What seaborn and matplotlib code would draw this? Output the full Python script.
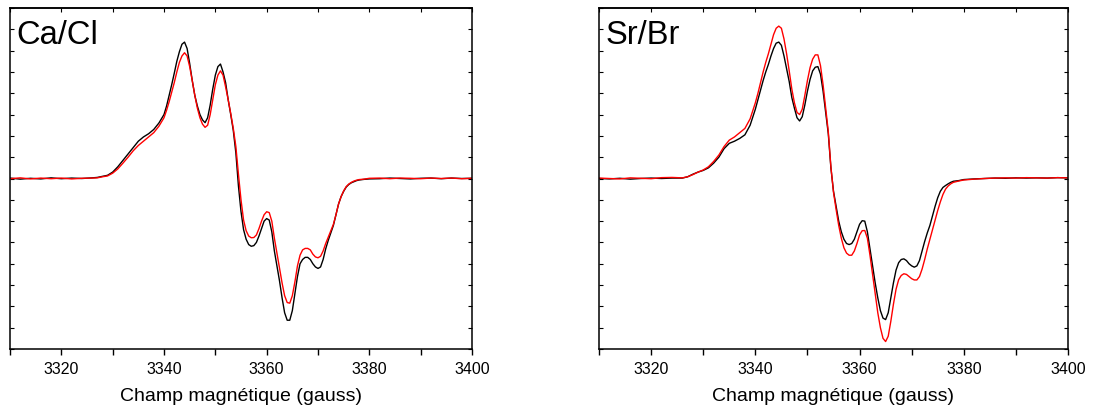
import numpy as np
import pandas as pd
import matplotlib
matplotlib.use("Agg")
import matplotlib.pyplot as plt
from matplotlib.ticker import MultipleLocator
import seaborn as sns

# ---------------- data ----------------
field = ([3310, 3312, 3314, 3316, 3318, 3320, 3322, 3324, 3326]
         + list(range(3327, 3340))
         + [3340 + 0.5 * i for i in range(77)]
         + [3379, 3380, 3382, 3384, 3386, 3388, 3390, 3392, 3394, 3396, 3398, 3400])

base_lo = [0.02, -0.03, 0.01, -0.02, 0.03, -0.01, 0.02, 0.0, 0.02]
base_hi = [0.0, 0.02, -0.01, 0.02, 0.0, -0.02, 0.01, 0.02, -0.01, 0.02, 0.0, 0.01]

ca_black = (base_lo[:-1] + [0.03]
            + [0.05, 0.1, 0.15, 0.3, 0.55, 0.85, 1.15, 1.45, 1.75, 1.95, 2.1, 2.3, 2.6]
            + [3.0, 3.4, 3.9, 4.4, 4.94, 5.5, 5.95, 6.3, 6.4, 6.1,
               5.4, 4.6, 3.9, 3.4, 3.0, 2.75, 2.62, 2.85, 3.45, 4.2,
               4.85, 5.25, 5.37, 5.0, 4.5, 3.7, 3.0, 2.25, 1.2, -0.35,
               -1.55, -2.4, -2.85, -3.1, -3.18, -3.15, -3.0, -2.7, -2.35, -2.0,
               -1.88, -1.95, -2.5, -3.4, -4.1, -4.8, -5.6, -6.3, -6.65, -6.65,
               -6.2, -5.4, -4.6, -4.0, -3.8, -3.7, -3.7, -3.8, -4.0, -4.15,
               -4.22, -4.15, -3.8, -3.3, -2.9, -2.55, -2.2, -1.7, -1.2, -0.85,
               -0.6, -0.4, -0.28, -0.2, -0.15, -0.1, -0.07]
            + [-0.04, -0.02] + base_hi[2:])

ca_red = ([-0.01, 0.03, -0.02, 0.02, -0.01, 0.02, -0.02, 0.01, 0.02]
          + [0.03, 0.08, 0.12, 0.25, 0.45, 0.72, 1.0, 1.3, 1.55, 1.75, 1.95, 2.15, 2.45]
          + [2.85, 3.2, 3.6, 4.05, 4.5, 5.0, 5.45, 5.75, 5.9, 5.75,
             5.25, 4.6, 3.9, 3.3, 2.85, 2.55, 2.4, 2.5, 3.0, 3.7,
             4.4, 4.85, 5.05, 4.85, 4.3, 3.7, 3.05, 2.35, 1.5, 0.2,
             -1.0, -1.95, -2.45, -2.7, -2.78, -2.77, -2.65, -2.35, -2.0, -1.7,
             -1.56, -1.6, -2.0, -2.8, -3.5, -4.2, -4.9, -5.5, -5.82, -5.85,
             -5.5, -4.85, -4.1, -3.6, -3.35, -3.28, -3.28, -3.35, -3.55, -3.68,
             -3.72, -3.65, -3.4, -3.05, -2.75, -2.45, -2.15, -1.7, -1.2, -0.85,
             -0.58, -0.38, -0.26, -0.18, -0.12, -0.08, -0.05]
          + [-0.03, 0.01, 0.02, -0.01, 0.02, 0.01, -0.01, 0.02, 0.0, 0.02, -0.01, 0.01])

sr_black = ([0.0, -0.02, 0.01, -0.03, 0.0, 0.02, 0.0, 0.02, 0.02]
            + [0.08, 0.2, 0.3, 0.38, 0.5, 0.72, 1.0, 1.4, 1.65, 1.75, 1.88, 2.05, 2.5]
            + [3.25, 3.7, 4.15, 4.6, 5.0, 5.35, 5.75, 6.1, 6.35, 6.4,
               6.25, 5.75, 5.15, 4.55, 3.8, 3.3, 2.85, 2.7, 2.9, 3.45,
               4.1, 4.65, 5.05, 5.22, 5.25, 4.9, 4.1, 3.1, 2.1, 0.5,
               -0.6, -1.3, -2.0, -2.5, -2.85, -3.05, -3.1, -3.05, -2.85, -2.5,
               -2.15, -1.98, -2.0, -2.5, -3.3, -4.1, -4.9, -5.6, -6.2, -6.55,
               -6.62, -6.3, -5.6, -4.9, -4.3, -3.95, -3.8, -3.77, -3.85, -4.0,
               -4.1, -4.16, -4.1, -3.85, -3.4, -2.95, -2.55, -2.2, -1.75, -1.3,
               -0.9, -0.6, -0.42, -0.33, -0.25, -0.18, -0.13]
            + [-0.1, -0.05, -0.02, 0.0, 0.02, 0.01, 0.03, 0.02, 0.03, 0.02, 0.04, 0.03])

sr_red = ([0.02, 0.0, -0.02, 0.03, 0.01, -0.01, 0.04, 0.05, 0.03]
          + [0.08, 0.18, 0.3, 0.4, 0.55, 0.8, 1.1, 1.5, 1.8, 1.95, 2.15, 2.35, 2.8]
          + [3.55, 4.0, 4.5, 5.0, 5.45, 5.85, 6.3, 6.75, 7.05, 7.15,
             7.05, 6.55, 5.85, 5.05, 4.2, 3.55, 3.1, 3.0, 3.25, 3.9,
             4.6, 5.2, 5.6, 5.8, 5.8, 5.3, 4.4, 3.3, 2.2, 0.55,
             -0.65, -1.45, -2.2, -2.8, -3.25, -3.5, -3.6, -3.6, -3.4, -3.05,
             -2.65, -2.45, -2.44, -2.8, -3.6, -4.5, -5.4, -6.3, -7.0, -7.5,
             -7.65, -7.4, -6.7, -5.9, -5.2, -4.75, -4.55, -4.47, -4.5, -4.6,
             -4.7, -4.76, -4.76, -4.6, -4.25, -3.8, -3.3, -2.85, -2.4, -1.95,
             -1.5, -1.1, -0.75, -0.5, -0.35, -0.25, -0.18]
          + [-0.12, -0.07, -0.03, 0.0, 0.02, 0.03, 0.02, 0.04, 0.03, 0.02, 0.04, 0.03])

panel_labels = ["Ca/Cl", "Sr/Br"]
x_ticks = [3320, 3340, 3360, 3380, 3400]
x_label = "Champ magnétique (gauss)"

# ---------------- style ----------------
sns.set_style("ticks")
plt.rcParams["font.family"] = ["Liberation Sans", "DejaVu Sans"]
plt.rcParams["axes.linewidth"] = 1.1
plt.rcParams["axes.edgecolor"] = "#000000"
plt.rcParams["text.color"] = "#000000"
plt.rcParams["axes.labelcolor"] = "#000000"
plt.rcParams["xtick.color"] = "#000000"
plt.rcParams["ytick.color"] = "#000000"

fig = plt.figure(figsize=(10.93, 4.16), dpi=100)
ax_l = fig.add_axes([10 / 1093, 1 - 349 / 416, 462 / 1093, 341 / 416])
ax_r = fig.add_axes([599 / 1093, 1 - 349 / 416, 469 / 1093, 341 / 416])

panels = [(ax_l, ca_black, ca_red, panel_labels[0]),
          (ax_r, sr_black, sr_red, panel_labels[1])]

for ax, blk, red, lab in panels:
    df = pd.DataFrame({"field": field * 2,
                       "signal": blk + red,
                       "trace": ["black"] * len(field) + ["red"] * len(field)})
    sns.lineplot(data=df, x="field", y="signal", hue="trace",
                 palette={"black": "#000000", "red": "#ff0000"},
                 hue_order=["black", "red"], sort=False, estimator=None,
                 linewidth=1.0, legend=False, ax=ax)
    ax.set_xlim(3310, 3400)
    ax.set_ylim(-8, 8)
    ax.set_xticks(x_ticks)
    ax.set_xticklabels([str(t) for t in x_ticks], fontsize=11.5)
    ax.xaxis.set_minor_locator(MultipleLocator(10))
    ax.yaxis.set_major_locator(MultipleLocator(1))
    ax.set_yticklabels([])
    ax.tick_params(axis="x", which="both", direction="out", length=4, width=1,
                   pad=5, bottom=True, top=False, colors="#000000")
    ax.tick_params(axis="y", which="major", direction="in", length=3, width=0.8,
                   left=True, right=True, labelleft=False)
    # top inward ticks every 10 G
    sec = ax.secondary_xaxis("top")
    sec.set_xticks([3320 + 10 * i for i in range(-1, 9)])
    sec.tick_params(direction="in", length=3, width=0.8, labeltop=False)
    sec.set_xticklabels([])
    for s in ax.spines.values():
        s.set_visible(True)
    ax.set_xlabel(x_label, fontsize=14, labelpad=8)
    ax.set_ylabel("")
    ax.text(0.013, 0.894, lab, transform=ax.transAxes, fontsize=23.5,
            ha="left", va="baseline", color="#000000")

fig.savefig("out.png", dpi=100)
